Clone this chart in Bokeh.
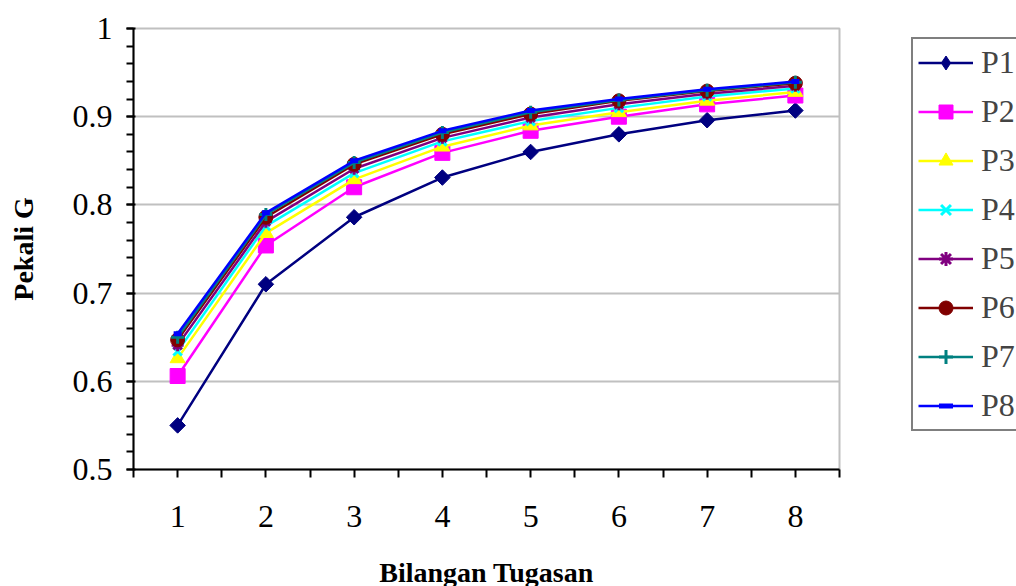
import numpy as np
from bokeh.plotting import figure
from bokeh.models import Range1d, FixedTicker, NumeralTickFormatter, Legend, LegendItem
from bokeh.embed import file_html
from bokeh.resources import INLINE

# ---- data ----
tasks = [1, 2, 3, 4, 5, 6, 7, 8]
P1 = [0.550, 0.710, 0.786, 0.831, 0.860, 0.880, 0.896, 0.907]
P2 = [0.606, 0.754, 0.820, 0.859, 0.884, 0.900, 0.914, 0.924]
P3 = [0.626, 0.768, 0.829, 0.866, 0.890, 0.905, 0.918, 0.928]
P4 = [0.634, 0.776, 0.836, 0.872, 0.895, 0.910, 0.923, 0.932]
P5 = [0.641, 0.781, 0.841, 0.876, 0.899, 0.914, 0.926, 0.935]
P6 = [0.647, 0.786, 0.846, 0.880, 0.903, 0.918, 0.929, 0.938]
P7 = [0.650, 0.789, 0.848, 0.882, 0.905, 0.919, 0.930, 0.939]
P8 = [0.654, 0.791, 0.850, 0.884, 0.907, 0.920, 0.931, 0.940]
series_names = ["P1", "P2", "P3", "P4", "P5", "P6", "P7", "P8"]
series_values = [P1, P2, P3, P4, P5, P6, P7, P8]
y_major = [0.5, 0.6, 0.7, 0.8, 0.9, 1.0]

# ---- styles ----
styles = [
    dict(color="#000080", marker="square", size=11, angle=np.pi / 4, legend_marker="diamond"),
    dict(color="#FF00FF", marker="square", size=15, angle=0, legend_marker=None),
    dict(color="#FFFF00", marker="triangle", size=15, angle=0, legend_marker=None),
    dict(color="#00FFFF", marker="x", size=12, angle=0, legend_marker=None),
    dict(color="#800080", marker="asterisk", size=12, angle=0, legend_marker=None),
    dict(color="#800000", marker="circle", size=14, angle=0, legend_marker=None),
    dict(color="#008080", marker="cross", size=13, angle=0, legend_marker=None),
    dict(color="#0000FF", marker="dash", size=8, angle=0, legend_marker=None),
]

FONT = "Liberation Serif"

p = figure(frame_width=706, frame_height=441,
           x_range=Range1d(0.5, 8.5), y_range=Range1d(0.5, 1.0),
           output_backend="svg", toolbar_location=None,
           min_border_left=133, min_border_right=177,
           min_border_top=28, min_border_bottom=117,
           background_fill_color="white", border_fill_color="white")

p.outline_line_color = "#c0c0c0"
p.outline_line_width = 2
p.xgrid.visible = False
p.ygrid.ticker = FixedTicker(ticks=y_major)
p.ygrid.grid_line_color = "#c0c0c0"
p.ygrid.grid_line_width = 2

# axes
p.xaxis.ticker = FixedTicker(ticks=tasks, minor_ticks=[t - 0.5 for t in tasks] + [8.5])
p.yaxis.ticker = FixedTicker(ticks=y_major,
                             minor_ticks=[round(0.5 + 0.02 * i, 2) for i in range(26)])
p.yaxis.formatter = NumeralTickFormatter(format="0.[0]")

for ax in (p.xaxis[0], p.yaxis[0]):
    ax.axis_line_color = "black"
    ax.axis_line_width = 2
    ax.major_tick_line_color = "black"
    ax.major_tick_line_width = 2
    ax.minor_tick_line_color = "black"
    ax.minor_tick_line_width = 2
    ax.major_label_text_font = FONT
    ax.major_label_text_font_size = "32px"
    ax.major_label_text_color = "black"
    ax.axis_label_text_font = FONT
    ax.axis_label_text_font_style = "bold"
    ax.axis_label_text_font_size = "28px"
    ax.axis_label_text_color = "black"

p.xaxis.major_tick_out = 8
p.xaxis.major_tick_in = 0
p.xaxis.minor_tick_out = 8
p.xaxis.minor_tick_in = 0
p.xaxis.major_label_standoff = 28
p.xaxis.axis_label = "Bilangan Tugasan"
p.xaxis.axis_label_standoff = 27

p.yaxis.major_tick_out = 7
p.yaxis.major_tick_in = 2
p.yaxis.minor_tick_out = 7
p.yaxis.minor_tick_in = 0
p.yaxis.major_label_standoff = 14
p.yaxis.axis_label = "Pekali G"
p.yaxis.axis_label_standoff = 31

items = []
for name, vals, st in zip(series_names, series_values, styles):
    ln = p.line(tasks, vals, line_color=st["color"], line_width=2.5)
    lg = None
    if st["legend_marker"]:
        # legend swatch marker (legend does not rotate markers); drawn beneath the
        # rotated square so it is hidden in the plot
        lg = p.scatter(tasks, vals, marker=st["legend_marker"], size=st["size"],
                       line_color=st["color"], fill_color=st["color"], line_width=1)
    if st["marker"] in ("x", "asterisk", "cross", "dash"):
        sc = p.scatter(tasks, vals, marker=st["marker"], size=st["size"], angle=st["angle"],
                       line_color=st["color"], line_width=3 if st["marker"] != "dash" else 5,
                       fill_color=None)
    else:
        sc = p.scatter(tasks, vals, marker=st["marker"], size=st["size"], angle=st["angle"],
                       line_color=st["color"], fill_color=st["color"], line_width=1)
    items.append(LegendItem(label=name, renderers=[ln, lg if lg is not None else sc]))

legend = Legend(items=items, location=(72, 38),
                border_line_color="black", border_line_width=2,
                background_fill_color="white", background_fill_alpha=1.0,
                label_text_font=FONT, label_text_font_size="32px",
                glyph_width=55, glyph_height=35, label_height=35,
                label_standoff=8, spacing=12, padding=5, margin=0)
p.add_layout(legend, "right")

open("out.html", "w").write(file_html(p, INLINE))
